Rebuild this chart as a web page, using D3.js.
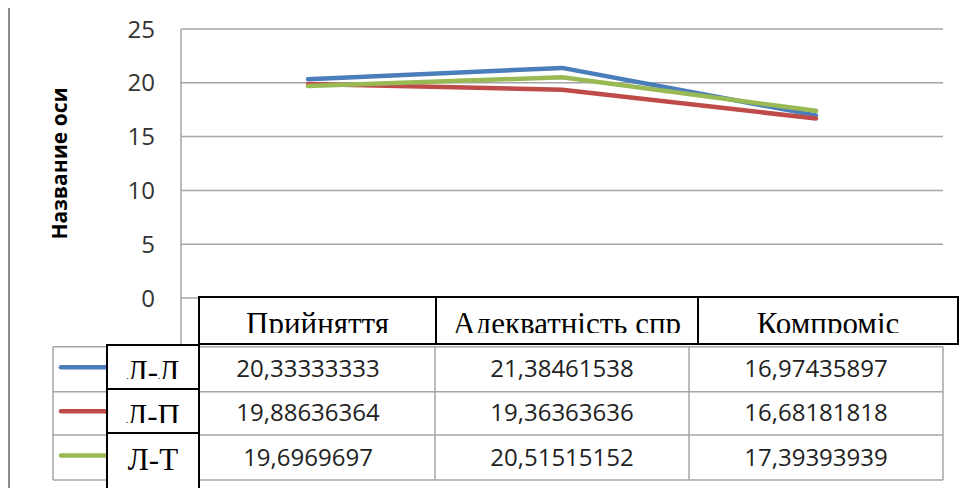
<!DOCTYPE html>
<html>
<head>
<meta charset="utf-8">
<script src="https://cdn.jsdelivr.net/npm/d3@7"></script>
<style>
    body { margin: 0; background: #fff; }
    svg { display: block; }
    .grid line { stroke: #a6a6a6; stroke-width: 1.5; }
    .tick-label { font-family: "Open Sans", sans-serif; font-size: 24px; fill: #333; }
    .cell-value { font-family: "Open Sans", sans-serif; font-size: 24px; fill: #222; }
    .boxed { font-family: "Liberation Serif", serif; font-size: 31px; fill: #000; }
</style>
</head>
<body>
<div id="chart"></div>
<script>
const categories = ["Прийняття", "Адекватність спр", "Компроміс"];
const seriesNames = ["Л-Л", "Л-П", "Л-Т"];
const seriesColors = ["#4a7ebb", "#be4b48", "#98b954"];
const valuesLL = [20.33333333, 21.38461538, 16.97435897];
const valuesLP = [19.88636364, 19.36363636, 16.68181818];
const valuesLT = [19.6969697, 20.51515152, 17.39393939];
const yTicks = [0, 5, 10, 15, 20, 25];
const axisTitle = "Название оси";

const series = [valuesLL, valuesLP, valuesLT];

const width = 960, height = 488;
const plot = {left: 181, right: 943, top: 29, bottom: 298};
const rowTops = [346.7, 391.7, 435, 480];

const svg = d3.select("#chart").append("svg")
    .attr("width", width)
    .attr("height", height);

const x = d3.scaleBand()
    .domain(categories)
    .range([plot.left, plot.right]);

const y = d3.scaleLinear()
    .domain([0, 25])
    .range([plot.bottom, plot.top]);

// outer left border
svg.append("line")
    .attr("x1", 9).attr("x2", 9).attr("y1", 8).attr("y2", height)
    .attr("stroke", "#8c8c8c").attr("stroke-width", 2);

// gridlines
const grid = svg.append("g").attr("class", "grid");
grid.selectAll("line.h")
    .data(yTicks)
    .join("line")
    .attr("x1", plot.left).attr("x2", plot.right)
    .attr("y1", d => y(d)).attr("y2", d => y(d));
grid.append("line")
    .attr("x1", plot.left).attr("x2", plot.left)
    .attr("y1", plot.top).attr("y2", rowTops[0]);

// y tick labels
svg.selectAll("text.tick-label")
    .data(yTicks)
    .join("text")
    .attr("class", "tick-label")
    .attr("x", 155)
    .attr("y", d => y(d))
    .attr("dy", "0.36em")
    .attr("text-anchor", "end")
    .text(d => d);

// axis title
svg.append("text")
    .attr("transform", `translate(67,${(plot.top + plot.bottom) / 2}) rotate(-90)`)
    .attr("text-anchor", "middle")
    .style("font-family", "'Open Sans', sans-serif")
    .style("font-weight", "bold")
    .style("font-size", "21px")
    .attr("fill", "#000")
    .text(axisTitle);

// series lines
const line = d3.line()
    .x((d, i) => x(categories[i]) + x.bandwidth() / 2)
    .y(d => y(d));

svg.selectAll("path.series")
    .data(series)
    .join("path")
    .attr("class", "series")
    .attr("d", line)
    .attr("fill", "none")
    .attr("stroke", (d, i) => seriesColors[i])
    .attr("stroke-width", 4.5)
    .attr("stroke-linecap", "round")
    .attr("stroke-linejoin", "round");

// data table grid
const tableGrid = svg.append("g").attr("class", "grid");
rowTops.forEach(ry => {
    tableGrid.append("line")
        .attr("x1", 53).attr("x2", plot.right)
        .attr("y1", ry).attr("y2", ry);
});
[53, plot.left].concat(categories.map(c => x(c) + x.bandwidth())).forEach(cx => {
    tableGrid.append("line")
        .attr("x1", cx).attr("x2", cx)
        .attr("y1", rowTops[0]).attr("y2", rowTops[rowTops.length - 1]);
});

// legend keys
seriesColors.forEach((c, i) => {
    const cy = (rowTops[i] + rowTops[i + 1]) / 2 - 2;
    svg.append("line")
        .attr("x1", 61).attr("x2", 110)
        .attr("y1", cy).attr("y2", cy)
        .attr("stroke", c).attr("stroke-width", 4.5)
        .attr("stroke-linecap", "round");
});

// values in table
series.forEach((vals, i) => {
    const cy = (rowTops[i] + rowTops[i + 1]) / 2;
    vals.forEach((v, j) => {
        svg.append("text")
            .attr("class", "cell-value")
            .attr("x", x(categories[j]) + x.bandwidth() / 2)
            .attr("y", cy + 8)
            .attr("text-anchor", "middle")
            .text(String(v).replace(".", ","));
    });
});

// pasted header boxes (black borders, serif text, clipped)
const headerEdges = [199, 436, 698, 958];
const defs = svg.append("defs");
categories.forEach((c, j) => {
    const x0 = headerEdges[j], x1 = headerEdges[j + 1];
    defs.append("clipPath").attr("id", `hclip${j}`)
        .append("rect")
        .attr("x", x0).attr("y", 297).attr("width", x1 - x0).attr("height", 36);
    svg.append("rect")
        .attr("x", x0).attr("y", 297).attr("width", x1 - x0).attr("height", 47)
        .attr("fill", "#fff").attr("stroke", "#000").attr("stroke-width", 2);
    svg.append("text")
        .attr("class", "boxed")
        .attr("clip-path", `url(#hclip${j})`)
        .attr("x", (x0 + x1) / 2)
        .attr("y", 334)
        .attr("text-anchor", "middle")
        .text(c);
});

const labelTops = [345, 389, 433, 492];
const labelClip = [379, 423, 492];
seriesNames.forEach((n, i) => {
    const y0 = labelTops[i], y1 = labelTops[i + 1];
    defs.append("clipPath").attr("id", `lclip${i}`)
        .append("rect")
        .attr("x", 107).attr("y", y0).attr("width", 92).attr("height", labelClip[i] - y0);
    svg.append("rect")
        .attr("x", 107).attr("y", y0).attr("width", 92).attr("height", y1 - y0)
        .attr("fill", "#fff").attr("stroke", "#000").attr("stroke-width", 2);
    svg.append("text")
        .attr("class", "boxed")
        .attr("clip-path", `url(#lclip${i})`)
        .attr("x", 153)
        .attr("y", y0 + 37)
        .attr("text-anchor", "middle")
        .text(n);
});
</script>
</body>
</html>
